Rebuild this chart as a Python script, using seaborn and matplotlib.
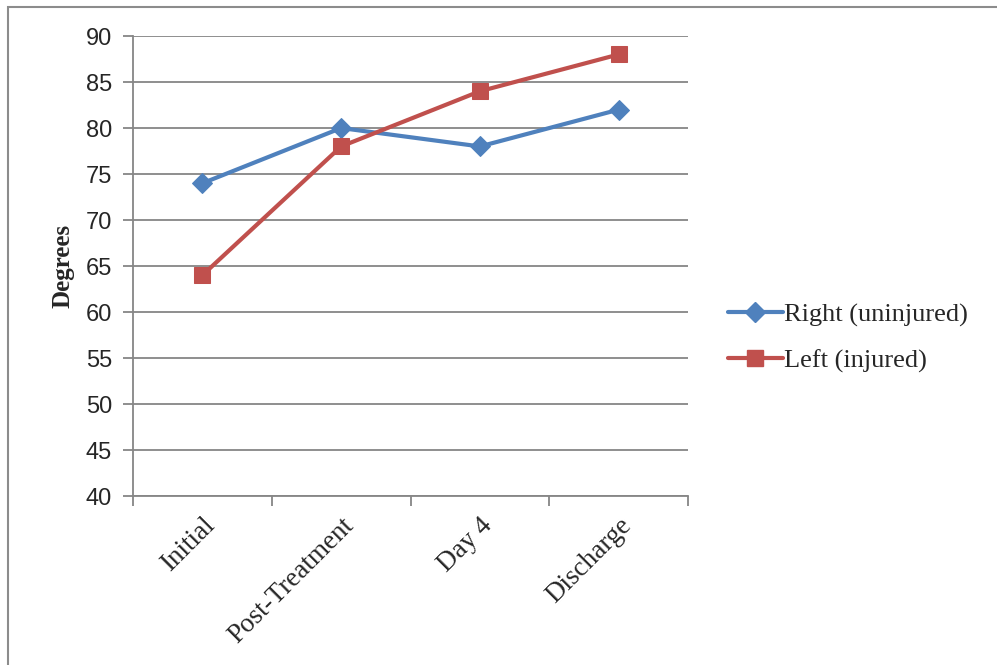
import numpy as np
import pandas as pd
import matplotlib
matplotlib.use("Agg")
import matplotlib.pyplot as plt
import seaborn as sns
from matplotlib.patches import Rectangle
from matplotlib.lines import Line2D

stages = ["Initial", "Post-Treatment", "Day 4", "Discharge"]
right_uninjured = [74, 80, 78, 82]
left_injured = [64, 78, 84, 88]
series_names = ["Right (uninjured)", "Left (injured)"]
colors = ["#4F81BD", "#C0504D"]
markers = ["D", "s"]
marker_sizes = [10, 12]

sns.set_style("white")
serif = ["Liberation Serif", "DejaVu Serif"]
sans = ["Liberation Sans", "DejaVu Sans"]

df = pd.DataFrame({
    "Stage": stages * 2,
    "Degrees": right_uninjured + left_injured,
    "Series": [series_names[0]] * 4 + [series_names[1]] * 4,
})
df["pos"] = df["Stage"].map({s: i for i, s in enumerate(stages)})

fig = plt.figure(figsize=(9.97, 6.65), dpi=100)
ax = fig.add_axes([0.1334, 0.2541, 0.5567, 0.6917])

handles = []
for name, col, mk, ms in zip(series_names, colors, markers, marker_sizes):
    sub = df[df["Series"] == name]
    sns.lineplot(data=sub, x="pos", y="Degrees", ax=ax, color=col, linewidth=3,
                 marker=mk, markersize=ms, markeredgecolor=col, sort=False,
                 legend=False, zorder=3)
    handles.append(Line2D([], [], color=col, lw=3, marker=mk, markersize=ms,
                          markeredgecolor=col))

ax.set_xlim(-0.5, len(stages) - 0.5)
ax.set_ylim(40, 90)
ax.set_yticks(np.arange(40, 91, 5))
ax.yaxis.grid(True, color="#868686", lw=1.3)
ax.set_axisbelow(True)

ax.set_xticks(range(len(stages)))
ax.set_xticklabels(stages, rotation=45, ha="right", rotation_mode="anchor",
                   family=serif, fontsize=19.5)
ax.set_xticks(np.arange(-0.5, len(stages), 1), minor=True)
ax.tick_params(axis="x", which="major", length=0, pad=12)
ax.tick_params(axis="x", which="minor", length=7, width=1.3, color="#868686",
               direction="out", bottom=True)
ax.tick_params(axis="y", length=7, width=1.3, color="#868686", direction="out",
               left=True, labelsize=17, pad=8)
for lbl in ax.get_yticklabels():
    lbl.set_family(sans)

for side in ["top", "right"]:
    ax.spines[side].set_visible(False)
for side in ["left", "bottom"]:
    ax.spines[side].set_color("#868686")
    ax.spines[side].set_linewidth(1.3)

ax.set_xlabel("")
ax.set_ylabel("Degrees", family=serif, fontsize=18, fontweight="bold", labelpad=8)

fig.legend(handles, series_names, loc="center left",
           bbox_to_anchor=(0.706, 0.492), frameon=False,
           prop={"family": serif, "size": 19}, handlelength=2.1,
           handletextpad=0.05, labelspacing=0.85)

fig.add_artist(Rectangle((0.008, -0.01), 0.995, 0.9995, transform=fig.transFigure,
                         fill=False, edgecolor="#8c8c8c", lw=1.5))

plt.savefig("out.png", dpi=100)
